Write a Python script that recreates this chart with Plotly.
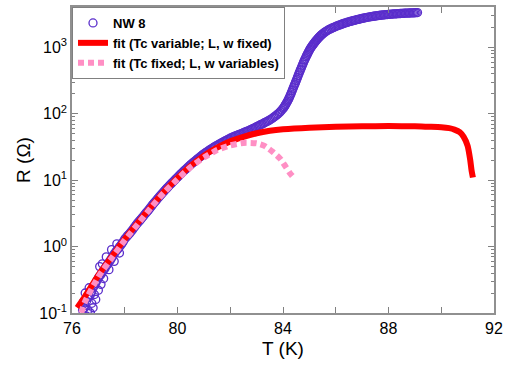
import plotly.graph_objects as go

# ---- data ----
# NW 8 measured data (T in K, R in Ohm) - centre of the dense band
T_data = [76.4, 76.5, 76.6, 76.7, 76.8, 76.9, 77.0, 77.1, 77.2, 77.3, 77.4, 77.5, 77.6, 77.7, 77.8, 77.9,
          78.0, 78.1, 78.2, 78.3, 78.4, 78.5, 78.6, 78.7, 78.8, 78.9, 79.0, 79.1, 79.2, 79.3, 79.4, 79.5,
          79.6, 79.7, 79.8, 79.9, 80.0, 80.1, 80.2, 80.3, 80.4, 80.5, 80.6, 80.7, 80.8, 80.9, 81.0, 81.1,
          81.2, 81.3, 81.4, 81.5, 81.6, 81.7, 81.8, 81.9, 82.0, 82.1, 82.2, 82.3, 82.4, 82.5, 82.6, 82.7,
          82.8, 82.9, 83.0, 83.1, 83.2, 83.3, 83.4, 83.5, 83.6, 83.7, 83.8, 83.9, 84.0,
          84.05, 84.1, 84.15, 84.2, 84.25, 84.3, 84.35, 84.4, 84.45, 84.5, 84.55, 84.6, 84.65, 84.7, 84.75,
          84.8, 84.85, 84.9, 84.95, 85.0, 85.05, 85.1, 85.15, 85.2, 85.25, 85.3, 85.35, 85.4, 85.45, 85.5,
          85.6, 85.7, 85.8, 85.9, 86.0, 86.1, 86.2, 86.3, 86.4, 86.5, 86.6, 86.7, 86.8, 86.9, 87.0,
          87.1, 87.2, 87.3, 87.4, 87.5, 87.6, 87.7, 87.8, 87.9, 88.0, 88.1, 88.2, 88.3, 88.4, 88.5,
          88.6, 88.7, 88.8, 88.9, 89.0, 89.1]
R_data = [0.11, 0.13, 0.17, 0.19, 0.24, 0.28, 0.34, 0.38, 0.44, 0.51, 0.58, 0.67, 0.78, 0.88, 0.99, 1.12,
          1.3, 1.45, 1.6, 1.8, 2.05, 2.3, 2.55, 2.85, 3.2, 3.55, 4.0, 4.5, 5.0, 5.6, 6.2, 6.9,
          7.6, 8.4, 9.2, 10.1, 11.1, 12.2, 13.3, 14.5, 15.8, 17.2, 18.6, 20.0, 21.6, 23.2, 25.0, 26.6,
          28.3, 30.0, 31.8, 33.6, 35.4, 37.2, 39.0, 41.0, 43.0, 44.8, 46.5, 48.3, 50.0, 52.0, 54.0, 56.0,
          58.5, 61.0, 64.0, 67.0, 70.0, 73.5, 77.0, 81.0, 86.0, 92.0, 99.0, 108, 120,
          128, 138, 150, 163, 180, 200, 225, 252, 282, 316, 355, 400, 448, 500, 560,
          625, 690, 760, 830, 910, 985, 1050, 1120, 1190, 1260, 1330, 1400, 1470, 1540, 1600,
          1720, 1820, 1910, 1990, 2070, 2150, 2220, 2300, 2370, 2440, 2500, 2560, 2620, 2680, 2740,
          2800, 2850, 2900, 2940, 2980, 3020, 3060, 3090, 3120, 3150, 3180, 3200, 3220, 3240, 3260,
          3280, 3300, 3310, 3325, 3340, 3360]
# NW 8 measured data - further points read between the ones above
T_data_b = [76.45, 76.55, 76.65, 76.75, 76.85, 76.95, 77.05, 77.15, 77.25, 77.35, 77.45, 77.55, 77.65,
            77.75, 77.85, 77.95, 78.05, 78.15, 78.25, 78.35, 78.45, 78.55, 78.65, 78.75, 78.85, 78.95,
            79.05, 79.15, 79.25, 79.35, 79.45, 79.55, 79.65, 79.75, 79.85, 79.95, 80.05, 80.15, 80.25,
            80.35, 80.45, 80.55, 80.65, 80.75, 80.85, 80.95, 81.05, 81.15, 81.25, 81.35, 81.45, 81.55,
            81.65, 81.75, 81.85, 81.95, 82.05, 82.15, 82.25, 82.35, 82.45, 82.55, 82.65, 82.75, 82.85,
            82.95, 83.05, 83.15, 83.25, 83.35, 83.45, 83.55, 83.65, 83.75, 83.85, 83.95,
            84.025, 84.075, 84.125, 84.175, 84.225, 84.275, 84.325, 84.375, 84.425, 84.475, 84.525,
            84.575, 84.625, 84.675, 84.725, 84.775, 84.825, 84.875, 84.925, 84.975, 85.025, 85.075,
            85.125, 85.175, 85.225, 85.275, 85.325, 85.375, 85.425, 85.475,
            85.55, 85.65, 85.75, 85.85, 85.95, 86.05, 86.15, 86.25, 86.35, 86.45, 86.55, 86.65, 86.75,
            86.85, 86.95, 87.05, 87.15, 87.25, 87.35, 87.45, 87.55, 87.65, 87.75, 87.85, 87.95, 88.05,
            88.15, 88.25, 88.35, 88.45, 88.55, 88.65, 88.75, 88.85, 88.95, 89.05]
R_data_b = [0.12, 0.15, 0.18, 0.21, 0.26, 0.31, 0.36, 0.41, 0.47, 0.54, 0.62, 0.72, 0.83,
            0.93, 1.05, 1.2, 1.37, 1.52, 1.7, 1.92, 2.17, 2.42, 2.7, 3.02, 3.37, 3.77,
            4.25, 4.75, 5.3, 5.9, 6.55, 7.25, 8.0, 8.8, 9.65, 10.6, 11.6, 12.7, 13.9,
            15.1, 16.5, 17.9, 19.3, 20.8, 22.4, 24.1, 25.8, 27.4, 29.1, 30.9, 32.7, 34.5,
            36.3, 38.1, 40.0, 42.0, 43.9, 45.6, 47.4, 49.1, 51.0, 53.0, 55.0, 57.2, 59.7,
            62.5, 65.5, 68.5, 71.7, 75.2, 79.0, 83.5, 89.0, 95.5, 103, 114,
            124, 133, 144, 156, 171, 190, 212, 238, 267, 298, 335,
            377, 423, 473, 530, 592, 657, 725, 795, 870, 948, 1018,
            1085, 1155, 1225, 1295, 1365, 1435, 1505, 1570,
            1660, 1770, 1865, 1950, 2030, 2110, 2185, 2260, 2335, 2405, 2470, 2530, 2590,
            2650, 2710, 2770, 2825, 2875, 2920, 2960, 3000, 3040, 3075, 3105, 3135, 3165,
            3190, 3210, 3230, 3250, 3270, 3290, 3305, 3318, 3332, 3350]
# scattered points at the low-temperature end
T_scatter = [76.45, 76.5, 76.55, 76.6, 76.65, 76.7, 76.75, 76.8, 76.85, 76.9, 77.0, 77.05, 77.1,
             77.15, 77.2, 77.3, 77.4, 77.5, 77.6, 77.7, 77.8]
R_scatter = [0.15, 0.2, 0.09, 0.11, 0.24, 0.1, 0.14, 0.12, 0.19, 0.16, 0.22, 0.5, 0.27,
             0.55, 0.33, 0.7, 0.45, 0.9, 0.6, 1.1, 0.8]

# fit (Tc variable; L, w fixed)
T_fit1 = [76.2, 76.5, 77.0, 77.5, 78.0, 78.5, 79.0, 79.5, 80.0, 80.5, 81.0, 81.5, 82.0, 82.5, 83.0,
          83.5, 84.0, 85.0, 86.0, 87.0, 88.0, 89.0, 89.5, 90.0, 90.3, 90.5, 90.7, 90.85, 91.0, 91.1,
          91.15, 91.2]
R_fit1 = [0.12, 0.18, 0.37, 0.7, 1.3, 2.3, 4.0, 6.8, 10.8, 16.5, 23.5, 31, 38.5, 45, 51,
          55.5, 58.5, 62, 64, 65, 65.5, 65, 64, 63, 61, 58, 53, 45, 33, 20,
          14, 11]

# fit (Tc fixed; L, w variables)
T_fit2 = [76.35, 76.5, 77.0, 77.5, 78.0, 78.5, 79.0, 79.5, 80.0, 80.5, 81.0, 81.5, 82.0, 82.5, 83.0,
          83.3, 83.6, 83.9, 84.1, 84.25, 84.4]
R_fit2 = [0.1, 0.15, 0.35, 0.67, 1.25, 2.2, 3.9, 6.6, 10.4, 15.8, 22, 28.5, 33.5, 36.5, 36,
          33, 27, 21, 16, 13, 11]

x_ticks = [76, 80, 84, 88, 92]
y_ticks = [0.1, 1, 10, 100, 1000]
y_ticktext = ["10<sup>-1</sup>", "10<sup>0</sup>", "10<sup>1</sup>", "10<sup>2</sup>", "10<sup>3</sup>"]

purple = "#5a2ecb"
fig = go.Figure()
fig.add_trace(go.Scatter(
    x=T_data + T_data_b + T_scatter, y=R_data + R_data_b + R_scatter, mode="markers", name="NW 8",
    marker=dict(symbol="circle-open", size=8, color=purple, line=dict(width=1.3, color=purple)),
))
fig.add_trace(go.Scatter(
    x=T_fit1, y=R_fit1, mode="lines", name="fit (Tc variable; L, w fixed)",
    line=dict(color="#ff0000", width=6, shape="spline", smoothing=0.6),
))
fig.add_trace(go.Scatter(
    x=T_fit2, y=R_fit2, mode="lines", name="fit (Tc fixed; L, w variables)",
    line=dict(color="#ff8fc4", width=6, dash="6px,4px", shape="spline", smoothing=0.6),
))

minor_vals = [m * 10 ** e for e in range(-1, 4) for m in range(2, 10)]
fig.update_layout(
    width=513, height=367,
    margin=dict(l=72, r=19, t=5, b=54),
    paper_bgcolor="white", plot_bgcolor="white",
    font=dict(family="Liberation Sans, Arial, sans-serif", color="black", size=16),
    showlegend=True,
    legend=dict(x=0, y=1, xanchor="left", yanchor="top",
                bordercolor="#808080", borderwidth=1, bgcolor="white",
                font=dict(size=13, family="Liberation Sans, Arial, sans-serif", weight="bold"),
                tracegroupgap=0, itemwidth=30),
    xaxis=dict(range=[76, 92], tickvals=x_ticks, ticks="inside", ticklen=6, tickcolor="#808080",
               showline=True, linecolor="#909090", linewidth=1.5, mirror="ticks",
               showgrid=False, zeroline=False,
               minor=dict(tickvals=[78, 82, 86, 90], ticks="inside", ticklen=6, tickcolor="#808080", showgrid=False),
               title=dict(text="T (K)", font=dict(size=19), standoff=6)),
    yaxis=dict(type="log", range=[-1, 3.61], tickvals=y_ticks, ticktext=y_ticktext,
               ticks="inside", ticklen=6, tickcolor="#808080",
               showline=True, linecolor="#909090", linewidth=1.5, mirror="ticks",
               showgrid=False, zeroline=False,
               minor=dict(tickvals=minor_vals, ticks="inside", ticklen=3, tickcolor="#808080", showgrid=False),
               title=dict(text="R (Ω)", font=dict(size=19), standoff=4)),
)

fig.write_html("out.html")
